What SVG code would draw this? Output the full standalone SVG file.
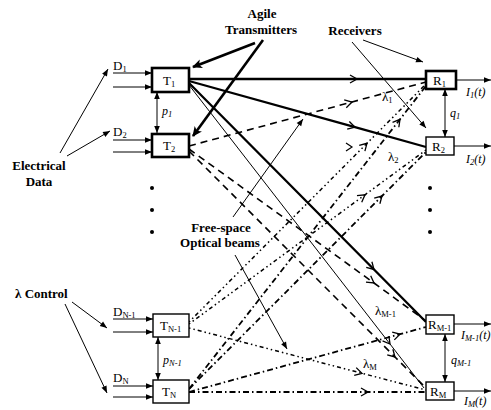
<svg xmlns="http://www.w3.org/2000/svg" width="491" height="410" viewBox="0 0 491 410">
<style>
.box{fill:#fff;stroke:#000;stroke-width:1.4}
.bk{stroke-width:2.6}
.lbl{font-family:"Liberation Serif",serif;font-weight:bold;font-size:13px;fill:#000}
.nm{font-family:"Liberation Serif",serif;font-size:13px;fill:#000}
.it{font-family:"Liberation Serif",serif;font-size:12px;font-style:italic;fill:#000}
.sub{font-size:8.5px}
.a{stroke:#000;fill:none;stroke-width:1}
.ab{stroke:#000;fill:none;stroke-width:2.6}
.b{stroke:#000;fill:none}
.s1{stroke-width:2.3}
.s0{stroke-width:1}
.d2{stroke-width:1.6;stroke-dasharray:7 5}
.d3{stroke-width:1.5;stroke-dasharray:1.5 3 1.5 3 4 3}
.d4{stroke-width:1.8;stroke-dasharray:6 3 1.5 3}
.dot{fill:#000}
</style>
<defs>
<marker id="ah" viewBox="0 0 10 10" refX="10" refY="5" markerWidth="8" markerHeight="7" orient="auto-start-reverse" markerUnits="userSpaceOnUse"><path d="M0,1 L10,5 L0,9 z" fill="#000"/></marker>
<marker id="ahb" viewBox="0 0 10 10" refX="9" refY="5" markerWidth="12" markerHeight="10" orient="auto" markerUnits="userSpaceOnUse"><path d="M0,0.5 L10,5 L0,9.5 L2.5,5 z" fill="#000"/></marker>
<marker id="ch" viewBox="0 0 10 10" refX="8" refY="5" markerWidth="10" markerHeight="10" orient="auto" markerUnits="userSpaceOnUse"><path d="M1,1 L8,5 L1,9" fill="none" stroke="#000" stroke-width="1.3" stroke-dasharray="none"/></marker>
</defs>

<g id="connectors">
<!-- beams from T1 -->
<polyline class="b s1" points="189,79 357,79 426,79" marker-mid="url(#ch)"/>
<polyline class="b s1" points="189,81 355,127.2 426,147" marker-mid="url(#ch)"/>
<polyline class="b s1" points="189,83 374,269.5 426,322" marker-mid="url(#ch)"/>
<polyline class="b s0" points="189,85 390,344 424,388" marker-mid="url(#ch)"/>
<!-- beams from T2 -->
<polyline class="b d2" points="189,146 352,102 426,82" marker-mid="url(#ch)"/>
<polyline class="b d2" points="189,149 374,283 426,321" marker-mid="url(#ch)"/>
<polyline class="b d2" points="189,151 395,357 424,386" marker-mid="url(#ch)"/>
<!-- beams from TN-1 -->
<polyline class="b d3" points="189,322 367,143.3 426,84" marker-mid="url(#ch)"/>
<polyline class="b d3" points="189,324 365,194.8 426,150" marker-mid="url(#ch)"/>
<polyline class="b d3" points="189,328 362,373.3 426,390" marker-mid="url(#ch)"/>
<!-- beams from TN -->
<polyline class="b d4" points="189,389 400,119.3 426,86" marker-mid="url(#ch)"/>
<polyline class="b d4" points="189,389 382,196 426,152" marker-mid="url(#ch)"/>
<polyline class="b d4" points="189,392 400,334.2 426,327" marker-mid="url(#ch)"/>
<polyline class="b d4" points="189,392 368,392 426,392" marker-mid="url(#ch)"/>
<path d="M346,143 L352,147 L346,151" fill="none" stroke="#000" stroke-width="1.2"/>

<!-- inputs -->
<line class="a" x1="113" y1="73" x2="152" y2="73" marker-end="url(#ah)"/>
<line class="a" x1="113" y1="87" x2="152" y2="87" marker-end="url(#ah)"/>
<line class="a" x1="113" y1="140" x2="152" y2="140" marker-end="url(#ah)"/>
<line class="a" x1="113" y1="152" x2="152" y2="152" marker-end="url(#ah)"/>
<line class="a" x1="113" y1="319" x2="153" y2="319" marker-end="url(#ah)"/>
<line class="a" x1="113" y1="332" x2="153" y2="332" marker-end="url(#ah)"/>
<line class="a" x1="113" y1="386" x2="153" y2="386" marker-end="url(#ah)"/>
<line class="a" x1="113" y1="397" x2="153" y2="397" marker-end="url(#ah)"/>
<!-- outputs -->
<line class="a" x1="456" y1="80" x2="491" y2="80" marker-end="url(#ah)"/>
<line class="a" x1="454" y1="146" x2="491" y2="146" marker-end="url(#ah)"/>
<line class="a" x1="454" y1="324" x2="491" y2="324" marker-end="url(#ah)"/>
<line class="a" x1="454" y1="391" x2="491" y2="391" marker-end="url(#ah)"/>
<!-- couplings -->
<line class="a" x1="157" y1="92" x2="157" y2="133" marker-start="url(#ah)" marker-end="url(#ah)"/>
<line class="a" x1="158" y1="337" x2="158" y2="380" marker-start="url(#ah)" marker-end="url(#ah)"/>
<line class="a" x1="445" y1="89" x2="445" y2="137" marker-start="url(#ah)" marker-end="url(#ah)"/>
<line class="a" x1="445" y1="334" x2="445" y2="382" marker-start="url(#ah)" marker-end="url(#ah)"/>
<!-- annotation arrows -->
<line class="a" x1="60" y1="153" x2="108" y2="69" marker-end="url(#ah)"/>
<line class="a" x1="67" y1="156" x2="110" y2="131" marker-end="url(#ah)"/>
<line class="a" x1="72" y1="302" x2="107" y2="328" marker-end="url(#ah)"/>
<line class="a" x1="65" y1="304" x2="107" y2="393" marker-end="url(#ah)"/>
<line class="a" x1="233" y1="217" x2="303" y2="119" marker-end="url(#ah)"/>
<line class="a" x1="235" y1="255" x2="287" y2="349" marker-end="url(#ah)"/>
<line class="a" x1="363" y1="40" x2="423" y2="62" marker-end="url(#ah)"/>
<line class="a" x1="352" y1="42" x2="426" y2="128" marker-end="url(#ah)"/>
<line class="ab" x1="255" y1="43" x2="193" y2="67" marker-end="url(#ahb)"/>
<line class="ab" x1="263" y1="40" x2="193" y2="136" marker-end="url(#ahb)"/>
</g>

<g id="T1"><rect class="box bk" x="152" y="68" width="37" height="24"/><text class="nm" x="163" y="85">T<tspan class="sub" dy="2">1</tspan></text></g>
<g id="T2"><rect class="box bk" x="152" y="134" width="37" height="23"/><text class="nm" x="163" y="150">T<tspan class="sub" dy="2">2</tspan></text></g>
<g id="TN-1"><rect class="box" x="153" y="314" width="36" height="23"/><text class="nm" x="160" y="330">T<tspan class="sub" dy="2">N-1</tspan></text></g>
<g id="TN"><rect class="box" x="153" y="380" width="36" height="23"/><text class="nm" x="162" y="396">T<tspan class="sub" dy="2">N</tspan></text></g>
<g id="R1"><rect class="box bk" x="426" y="71" width="30" height="18"/><text class="nm" x="433" y="85">R<tspan class="sub" dy="2">1</tspan></text></g>
<g id="R2"><rect class="box" x="426" y="137" width="28" height="18"/><text class="nm" x="432" y="151">R<tspan class="sub" dy="2">2</tspan></text></g>
<g id="RM-1"><rect class="box" x="426" y="315" width="28" height="19"/><text class="nm" x="428" y="329">R<tspan class="sub" dy="2">M-1</tspan></text></g>
<g id="RM"><rect class="box" x="426" y="382" width="28" height="18"/><text class="nm" x="430" y="396">R<tspan class="sub" dy="2">M</tspan></text></g>

<g id="dots">
<circle class="dot" cx="152" cy="188" r="2"/><circle class="dot" cx="152" cy="210" r="2"/><circle class="dot" cx="152" cy="232" r="2"/>
<circle class="dot" cx="430" cy="188" r="2"/><circle class="dot" cx="430" cy="210" r="2"/><circle class="dot" cx="430" cy="232" r="2"/>
</g>

<g id="labels">
<text class="lbl" x="262" y="18" text-anchor="middle">Agile</text>
<text class="lbl" x="261" y="34" text-anchor="middle">Transmitters</text>
<text class="lbl" x="355" y="35" text-anchor="middle">Receivers</text>
<text class="lbl" x="39" y="170" text-anchor="middle">Electrical</text>
<text class="lbl" x="39" y="186" text-anchor="middle">Data</text>
<text class="lbl" x="221" y="232" text-anchor="middle">Free-space</text>
<text class="lbl" x="220" y="247" text-anchor="middle">Optical beams</text>
<text class="lbl" x="15" y="298">λ Control</text>
<text class="nm" x="113" y="70">D<tspan class="sub" dy="2">1</tspan></text>
<text class="nm" x="113" y="136">D<tspan class="sub" dy="2">2</tspan></text>
<text class="nm" x="113" y="316">D<tspan class="sub" dy="2">N-1</tspan></text>
<text class="nm" x="113" y="382">D<tspan class="sub" dy="2">N</tspan></text>
<text class="it" x="162" y="115">p<tspan class="sub" dy="2">1</tspan></text>
<text class="it" x="163" y="364">p<tspan class="sub" dy="2">N-1</tspan></text>
<text class="it" x="450" y="117">q<tspan class="sub" dy="2">1</tspan></text>
<text class="it" x="451" y="364">q<tspan class="sub" dy="2">M-1</tspan></text>
<text class="it" x="466" y="96">I<tspan class="sub" dy="2">1</tspan><tspan dy="-2">(t)</tspan></text>
<text class="it" x="466" y="163">I<tspan class="sub" dy="2">2</tspan><tspan dy="-2">(t)</tspan></text>
<text class="it" x="461" y="339">I<tspan class="sub" dy="2">M-1</tspan><tspan dy="-2">(t)</tspan></text>
<text class="it" x="464" y="405">I<tspan class="sub" dy="2">M</tspan><tspan dy="-2">(t)</tspan></text>
<text class="nm" x="382" y="101">λ<tspan class="sub" dy="2">1</tspan></text>
<text class="nm" x="388" y="161">λ<tspan class="sub" dy="2">2</tspan></text>
<text class="nm" x="375" y="315">λ<tspan class="sub" dy="2">M-1</tspan></text>
<text class="nm" x="363" y="368">λ<tspan class="sub" dy="2">M</tspan></text>
</g>
</svg>
